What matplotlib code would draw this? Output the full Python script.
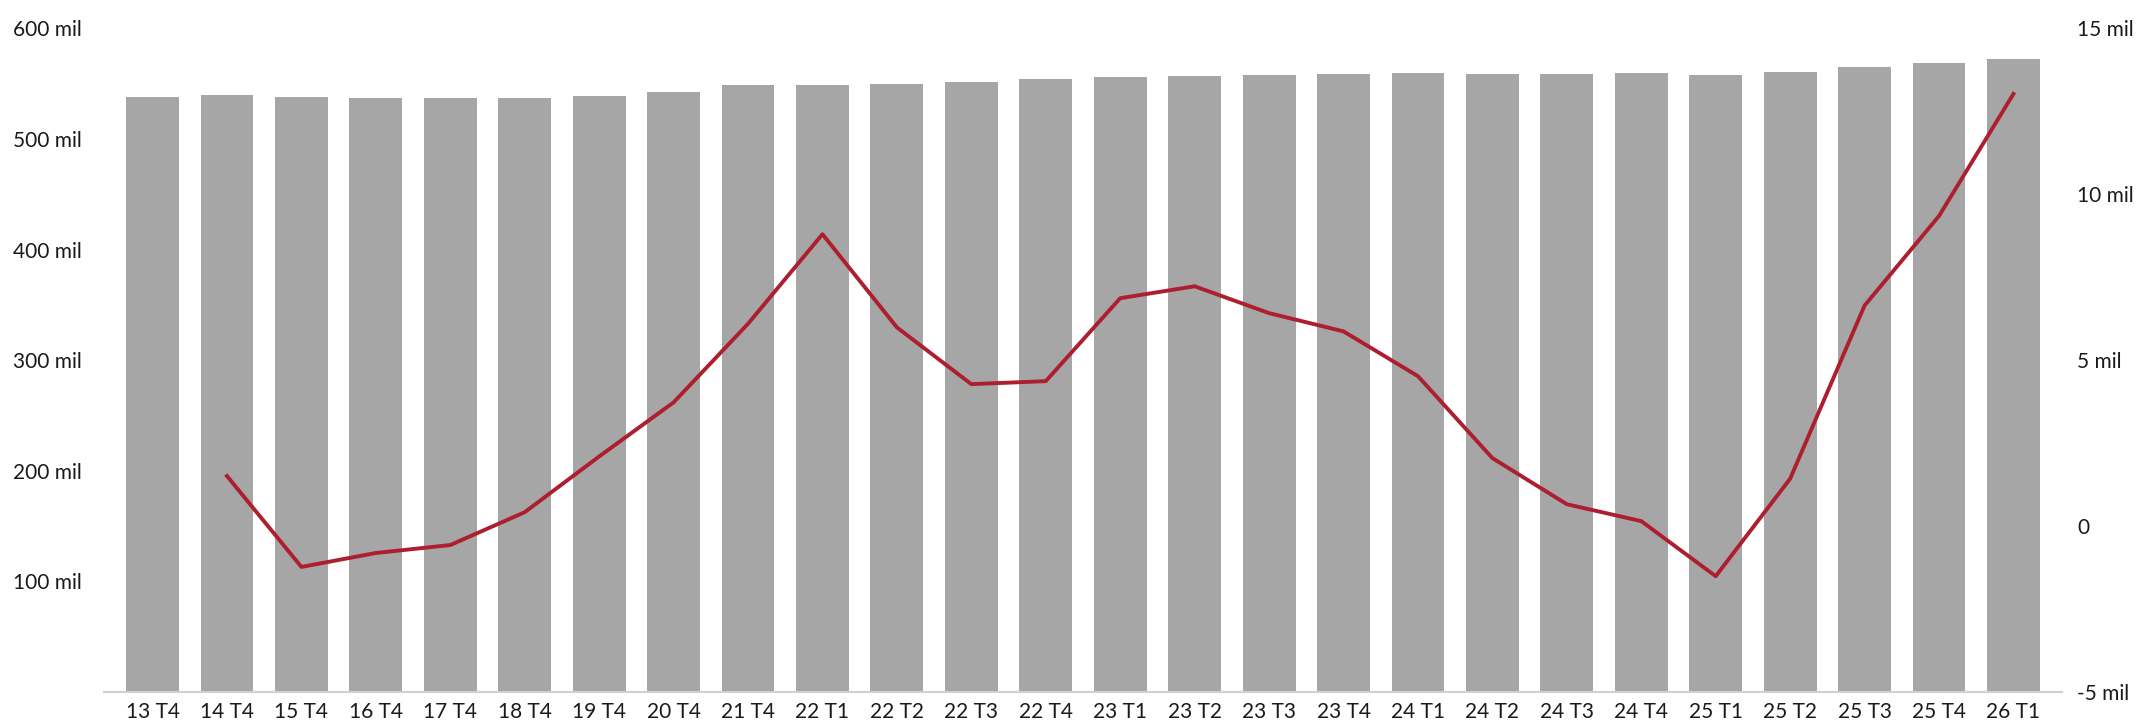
import numpy as np
import matplotlib.pyplot as plt
from matplotlib.ticker import FuncFormatter

plt.rcParams["font.family"] = ["Lato", "DejaVu Sans"]

quarters = ["13 T4", "14 T4", "15 T4", "16 T4", "17 T4", "18 T4", "19 T4",
            "20 T4", "21 T4", "22 T1", "22 T2", "22 T3", "22 T4", "23 T1",
            "23 T2", "23 T3", "23 T4", "24 T1", "24 T2", "24 T3", "24 T4",
            "25 T1", "25 T2", "25 T3", "25 T4", "26 T1"]

# bars: level, in thousands ("mil")
level = [538, 540, 538, 537, 537, 537, 539, 543, 549, 549, 550, 552, 554,
         556, 557, 558, 559, 560, 559, 559, 560, 558, 561, 565, 569, 572]

# line: change, in thousands (right axis); first quarter has no value
change = [np.nan, 1.51, -1.23, -0.81, -0.57, 0.42, 2.1, 3.73, 6.1, 8.8,
          5.99, 4.28, 4.37, 6.87, 7.23, 6.42, 5.87, 4.52, 2.05, 0.66, 0.15,
          -1.51, 1.43, 6.65, 9.35, 13.03]

left_ticks = [100, 200, 300, 400, 500, 600]
right_ticks = [-5, 0, 5, 10, 15]

BAR_COLOR = "#A6A6A6"
LINE_COLOR = "#AD1F2F"
TEXT_COLOR = "#1a1a1a"

fig = plt.figure(figsize=(21.37, 7.28), dpi=100)
ax = fig.add_axes([104 / 2137, 1 - 692 / 728, (2062 - 104) / 2137, (692 - 28.5) / 728])
x = np.arange(len(quarters))

ax.bar(x, level, width=0.71, color=BAR_COLOR, zorder=2)
ax.set_xlim(-0.652, len(quarters) - 1 + 0.652)
ax.set_ylim(0, 600)
ax.set_yticks(left_ticks)
ax.yaxis.set_major_formatter(FuncFormatter(lambda v, p: f"{int(v)} mil"))
ax.set_xticks(x)
ax.set_xticklabels(quarters)
ax.tick_params(axis="y", length=0, pad=16, labelsize=15, labelcolor=TEXT_COLOR)
ax.tick_params(axis="x", length=0, pad=7, labelsize=15, labelcolor=TEXT_COLOR)
for side in ["top", "left", "right"]:
    ax.spines[side].set_visible(False)
ax.spines["bottom"].set_color("#D0D0D0")
ax.spines["bottom"].set_linewidth(1.5)

ax2 = ax.twinx()
ax2.plot(x, change, color=LINE_COLOR, lw=2.8, zorder=3)
ax2.set_ylim(-5, 15)
ax2.set_yticks(right_ticks)
ax2.yaxis.set_major_formatter(
    FuncFormatter(lambda v, p: "0" if v == 0 else f"{int(v)} mil"))
ax2.tick_params(axis="y", length=0, pad=11, labelsize=15, labelcolor=TEXT_COLOR)
for side in ["top", "left", "right", "bottom"]:
    ax2.spines[side].set_visible(False)

fig.savefig("out.png", dpi=100)
